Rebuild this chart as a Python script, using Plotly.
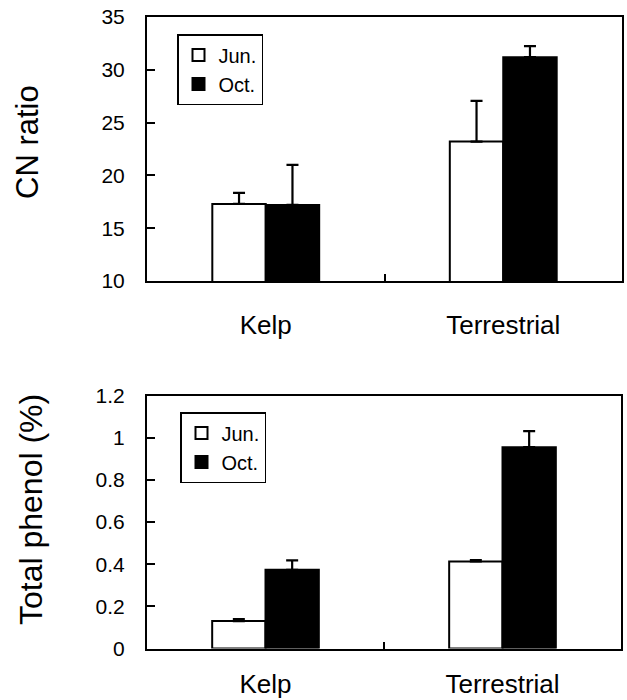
import plotly.graph_objects as go

categories = ["Kelp", "Terrestrial"]
series_names = ["Jun.", "Oct."]

cn_jun = [17.3, 23.2]
cn_jun_err = [1.05, 3.85]
cn_oct = [17.2, 31.2]
cn_oct_err = [3.8, 1.05]

ph_jun = [0.13, 0.413]
ph_jun_err = [0.01, 0.006]
ph_oct = [0.373, 0.955]
ph_oct_err = [0.045, 0.076]

FONT = "Arial, Liberation Sans, sans-serif"
W, H = 627, 700

fig = go.Figure()

def add_pair(jun, jun_err, octv, oct_err, xa, ya, legend, showleg=True):
    for name, vals, errs, color in [
        (series_names[0], jun, jun_err, "white"),
        (series_names[1], octv, oct_err, "black"),
    ]:
        fig.add_trace(go.Bar(
            x=categories, y=vals, name=name,
            marker=dict(color=color, line=dict(color="black", width=2)),
            error_y=dict(type="data", array=errs, arrayminus=[0] * len(errs),
                         symmetric=False, color="black", thickness=2.2, width=6),
            xaxis=xa, yaxis=ya, legend=legend, showlegend=showleg,
        ))

add_pair(cn_jun, cn_jun_err, cn_oct, cn_oct_err, "x", "y", "legend")
add_pair(ph_jun, ph_jun_err, ph_oct, ph_oct_err, "x2", "y2", "legend2")

x_left, x_right = 147 / W, 622 / W
top1, bot1 = 1 - 17 / H, 1 - 281 / H
top2, bot2 = 1 - 395.5 / H, 1 - 648.5 / H

common_x = dict(
    type="category", showline=True, linecolor="black", linewidth=2, mirror=True,
    ticks="inside", tickson="boundaries", ticklen=7, tickwidth=1.5, tickcolor="black",
    tickfont=dict(family=FONT, size=26, color="black"), showgrid=False, zeroline=False,
    automargin=False,
)
common_y = dict(
    showline=True, linecolor="black", linewidth=2, mirror=True,
    ticks="inside", ticklen=8, tickwidth=1.5, tickcolor="black",
    tickfont=dict(family=FONT, size=21, color="black"), showgrid=False, zeroline=False,
    ticklabelstandoff=16, automargin=False,
)

fig.update_layout(
    width=W, height=H, margin=dict(l=0, r=0, t=0, b=0, autoexpand=False),
    paper_bgcolor="white", plot_bgcolor="white",
    barmode="group", bargap=0.55, bargroupgap=0,
    xaxis=dict(domain=[x_left, x_right], anchor="y", ticklabelstandoff=20, **common_x),
    yaxis=dict(domain=[bot1, top1], anchor="x", range=[10, 35], dtick=5, **common_y),
    xaxis2=dict(domain=[x_left, 621 / W], anchor="y2", ticklabelstandoff=11, **common_x),
    yaxis2=dict(domain=[bot2, top2], anchor="x2", range=[0, 1.2], dtick=0.2, **common_y),
    legend=dict(x=177 / W, y=1 - 34 / H, xanchor="left", yanchor="top",
                bordercolor="black", borderwidth=1.5, bgcolor="white",
                font=dict(family=FONT, size=20, color="black"), tracegroupgap=0),
    legend2=dict(x=180 / W, y=1 - 412 / H, xanchor="left", yanchor="top",
                 bordercolor="black", borderwidth=1.5, bgcolor="white",
                 font=dict(family=FONT, size=20, color="black"), tracegroupgap=0),
    annotations=[
        dict(text="CN ratio", x=27 / W, y=1 - 142 / H, xref="paper", yref="paper",
             textangle=-90, showarrow=False, xanchor="center", yanchor="middle",
             font=dict(family=FONT, size=31, color="black")),
        dict(text="Total phenol (%)", x=31 / W, y=1 - 510 / H, xref="paper", yref="paper",
             textangle=-90, showarrow=False, xanchor="center", yanchor="middle",
             font=dict(family=FONT, size=32, color="black")),
    ],
)

fig.write_html("out.html", config={"displayModeBar": False},
               post_script="document.body.style.margin='0';")
